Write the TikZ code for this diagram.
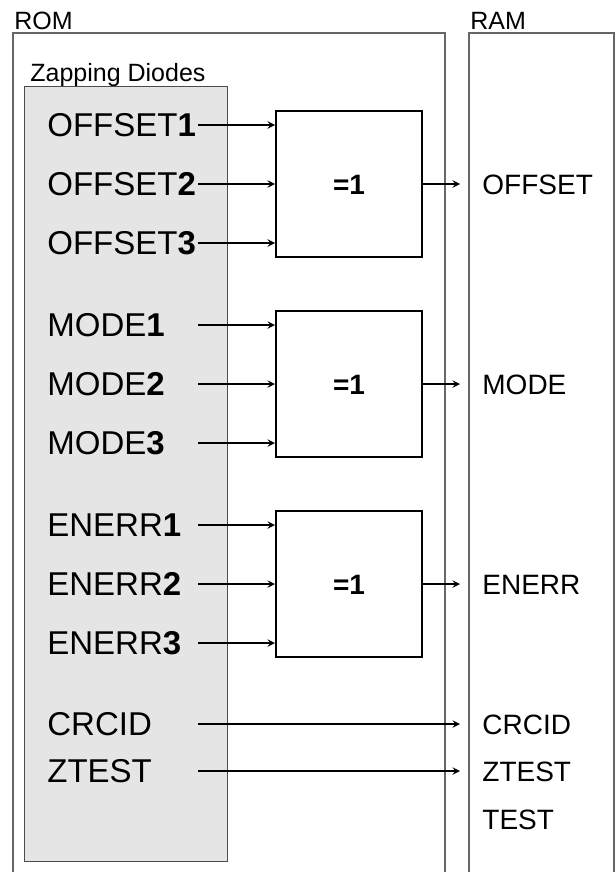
\documentclass[tikz,border=0pt]{standalone}
\usepackage{fontspec}
\setmainfont{Liberation Sans}
\usetikzlibrary{positioning,arrows}
\tikzset{
    boxlabel/.style={
        anchor=west,inner sep=0pt,text height=9pt,text depth=0pt,font=\fontsize{12.5}{15}\selectfont
    },
    inlabel/.style={
        anchor=west,inner sep=0pt,text height=11.9pt,text depth=0pt,font=\fontsize{16.5}{20}\selectfont
    },
    outlabel/.style={
        anchor=west,inner xsep=11pt,inner ysep=0pt,text height=10pt,text depth=0pt,font=\fontsize{14}{17}\selectfont
    },
    xorgate/.style={
        draw,line width=1pt,minimum width=73pt,minimum height=73pt,text height=10pt,text depth=0pt,
        font=\bfseries\fontsize{14}{17}\selectfont
    },
    memblock/.style={
        draw=black!60,line width=.75pt
    },
    wire/.style={
        ->,line width=.65pt
    }
}
\begin{document}
\begin{tikzpicture}[x=.5pt,y=-.5pt,>=stealth]
\useasboundingbox (0,0) rectangle (615,872);
\draw[memblock] (13,880) -- (13,33) -- (445,33) -- (445,880);
\draw[memblock] (469,880) -- (469,33) -- (614,33) -- (614,880);
\node[boxlabel] (rom) at (14,21) {ROM};
\node[boxlabel] (ram) at (470,21) {RAM};
\node[boxlabel] (zap) at (30,73) {Zapping Diodes};
\draw[black!70,line width=.5pt,fill=black!10] (24,87) rectangle (227,861);
% zapping diode bits
\node[inlabel] (off1) at (47,125) {OFFSET\textbf{1}};
\node[inlabel] (off2) at (47,184) {OFFSET\textbf{2}};
\node[inlabel] (off3) at (47,243) {OFFSET\textbf{3}};
\node[inlabel] (mode1) at (47,325) {MODE\textbf{1}};
\node[inlabel] (mode2) at (47,384) {MODE\textbf{2}};
\node[inlabel] (mode3) at (47,443) {MODE\textbf{3}};
\node[inlabel] (enerr1) at (47,525) {ENERR\textbf{1}};
\node[inlabel] (enerr2) at (47,584) {ENERR\textbf{2}};
\node[inlabel] (enerr3) at (47,643) {ENERR\textbf{3}};
\node[inlabel] (crcid) at (47,724) {CRCID};
\node[inlabel] (ztest) at (47,771) {ZTEST};
% majority gates
\node[xorgate] (g1) at (349,184) {=1};
\node[xorgate] (g2) at (349,384) {=1};
\node[xorgate] (g3) at (349,584) {=1};
% ram bits
\node[outlabel] (offram) at (460,184) {OFFSET};
\node[outlabel] (moderam) at (460,384) {MODE};
\node[outlabel] (enerrram) at (460,584) {ENERR};
\node[outlabel] (crcidram) at (460,724) {CRCID};
\node[outlabel] (ztestram) at (460,771) {ZTEST};
\node[outlabel] (testram) at (460,819) {TEST};
\coordinate (xs) at (198,0);
\draw[wire] (off1 -| xs) -- (off1 -| g1.west);
\draw[wire] (off2 -| xs) -- (off2 -| g1.west);
\draw[wire] (off3 -| xs) -- (off3 -| g1.west);
\draw[wire] (mode1 -| xs) -- (mode1 -| g2.west);
\draw[wire] (mode2 -| xs) -- (mode2 -| g2.west);
\draw[wire] (mode3 -| xs) -- (mode3 -| g2.west);
\draw[wire] (enerr1 -| xs) -- (enerr1 -| g3.west);
\draw[wire] (enerr2 -| xs) -- (enerr2 -| g3.west);
\draw[wire] (enerr3 -| xs) -- (enerr3 -| g3.west);
\draw[wire] (g1) edge (offram) (g2) edge (moderam) (g3) edge (enerrram);
\draw[wire] (crcid -| xs) -- (crcidram.west);
\draw[wire] (ztest -| xs) -- (ztestram.west);
\end{tikzpicture}
\end{document}
